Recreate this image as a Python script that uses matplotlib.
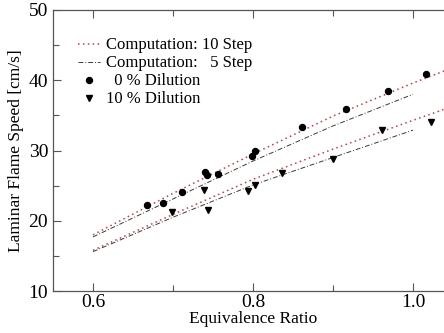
import matplotlib
matplotlib.use("Agg")
import matplotlib.pyplot as plt
from matplotlib.ticker import MultipleLocator

plt.rcParams['font.family'] = ['Liberation Serif', 'DejaVu Serif']
plt.rcParams['mathtext.fontset'] = 'stix'

# computed curves
phi_10 = [0.6, 0.7, 0.8, 0.9, 1.0, 1.05]
s10_0 = [18.0, 23.9, 29.5, 34.9, 39.6, 41.8]
s10_10 = [15.8, 20.9, 25.9, 30.2, 34.3, 36.3]

phi_5 = [0.6, 0.7, 0.8, 0.9, 1.0]
s5_0 = [17.7, 23.1, 28.5, 33.5, 38.0]
s5_10 = [15.6, 20.5, 25.1, 29.0, 32.9]

# measurements
phi_d0 = [0.667, 0.687, 0.711, 0.740, 0.742, 0.756, 0.799, 0.802, 0.861, 0.916, 0.969, 1.016]
s_d0 = [22.2, 22.5, 24.1, 26.9, 26.5, 26.7, 29.2, 29.9, 33.3, 35.9, 38.5, 40.9]
phi_d10 = [0.699, 0.739, 0.744, 0.794, 0.803, 0.836, 0.900, 0.961, 1.022]
s_d10 = [21.2, 24.4, 21.6, 24.2, 25.1, 26.8, 28.8, 32.9, 34.1]

fig = plt.figure(figsize=(4.44, 3.33), dpi=100)
ax = fig.add_axes([53/444, 42/333, 400/444, 281/333])

red = '#c83c46'
dk = '#3a3a3a'
ax.plot(phi_10, s10_0, linestyle=(0, (1, 2.2)), color=red, lw=1.1,
        label='Computation: 10 Step')
ax.plot(phi_5, s5_0, linestyle=(0, (5, 2, 1, 2)), color=dk, lw=0.7,
        label='Computation:   5 Step')
ax.plot(phi_10, s10_10, linestyle=(0, (1, 2.2)), color=red, lw=1.1)
ax.plot(phi_5, s5_10, linestyle=(0, (5, 2, 1, 2)), color=dk, lw=0.7)
ax.plot(phi_d0, s_d0, 'o', color='black', ms=4.3, ls='none',
        label='  0 % Dilution')
ax.plot(phi_d10, s_d10, 'v', color='black', ms=5, ls='none',
        label='10 % Dilution')

ax.set_xlim(0.55, 1.05)
ax.set_ylim(10, 50)
ax.xaxis.set_minor_locator(MultipleLocator(0.1))
ax.yaxis.set_major_locator(MultipleLocator(10))
ax.yaxis.set_minor_locator(MultipleLocator(5))
ax.set_xticks([0.6, 0.8, 1.0])
ax.set_xticklabels(['0.6', '0.8', '1.0'])
ax.tick_params(which='both', direction='in', top=True, right=True,
               color='#555555', labelsize=14, width=0.8)
ax.tick_params(which='major', length=6)
ax.tick_params(which='minor', length=4)
ax.tick_params(axis='x', pad=2)
for s in ax.spines.values():
    s.set_color('#555555')
    s.set_linewidth(0.9)

ax.set_xlabel('Equivalence Ratio', fontsize=12.5, labelpad=0)
ax.set_ylabel('Laminar Flame Speed [cm/s]', fontsize=12.5, labelpad=3)

ax.legend(loc='upper left', frameon=False, fontsize=12, handlelength=1.3,
          handletextpad=0.35, labelspacing=0.12, borderaxespad=0.4,
          bbox_to_anchor=(0.03, 0.95))

fig.savefig('out.png', dpi=100)
